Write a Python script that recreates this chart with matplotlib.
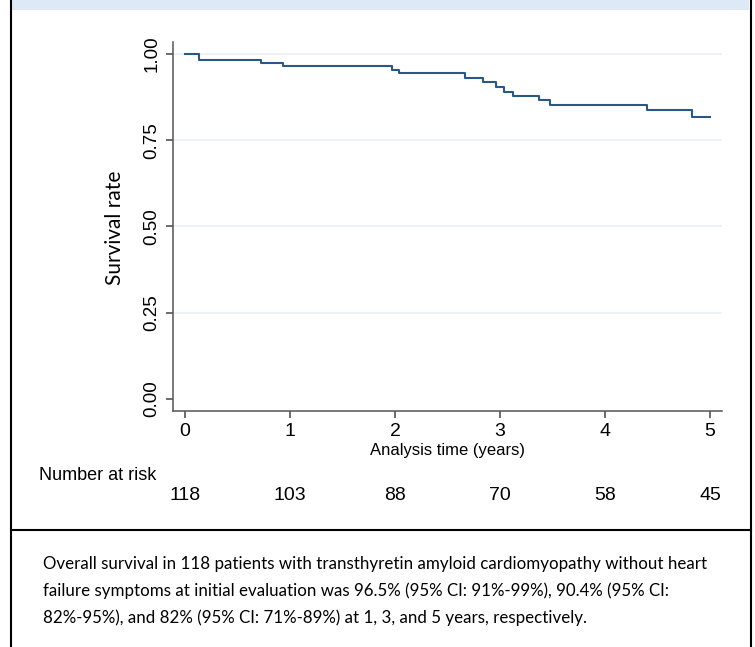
"""Kaplan-Meier survival curve with number at risk and caption"""
import matplotlib
matplotlib.use("Agg")
import matplotlib.pyplot as plt
from matplotlib.lines import Line2D
from matplotlib.patches import Rectangle

# step times (years) and survival estimates
times = [0, 0.13, 0.72, 0.93, 1.97, 2.04, 2.67, 2.84, 2.96, 3.04, 3.12, 3.37, 3.48, 4.40, 4.83, 5.0]
survival = [1.0, 0.983, 0.975, 0.966, 0.953, 0.944, 0.930, 0.918, 0.905, 0.891, 0.878,
            0.866, 0.852, 0.837, 0.818, 0.818]

year_ticks = [0, 1, 2, 3, 4, 5]
at_risk = [118, 103, 88, 70, 58, 45]
y_ticks = [0.0, 0.25, 0.5, 0.75, 1.0]
y_tick_labels = ["0.00", "0.25", "0.50", "0.75", "1.00"]

caption = ("Overall survival in 118 patients with transthyretin amyloid cardiomyopathy without heart\n"
           "failure symptoms at initial evaluation was 96.5% (95% CI: 91%-99%), 90.4% (95% CI:\n"
           "82%-95%), and 82% (95% CI: 71%-89%) at 1, 3, and 5 years, respectively.")

W, H = 755, 647
arial = ["Liberation Sans", "DejaVu Sans"]
humanist = ["Lato", "DejaVu Sans"]

fig = plt.figure(figsize=(W / 100, H / 100), dpi=100)
ax = fig.add_axes([173 / W, 1 - 411 / H, (722 - 173) / W, (411 - 42) / H])

ax.plot(times, survival, drawstyle="steps-post", color="#2b5783", lw=1.5, zorder=3)
for yv in y_ticks[1:]:
    ax.axhline(yv, color="#e9eff6", lw=1.2, zorder=1)

ax.set_xlim(-0.114, 5.114)
ax.set_ylim(-0.035, 1.035)
ax.set_xticks(year_ticks)
ax.set_xticklabels([str(t) for t in year_ticks], family=arial, fontsize=14)
ax.set_yticks(y_ticks)
ax.set_yticklabels(y_tick_labels, family=arial, fontsize=13.5, rotation=90, va="center")
ax.tick_params(axis="both", direction="out", length=5, width=1.1, color="#444444", pad=4)
for side in ["top", "right"]:
    ax.spines[side].set_visible(False)
for side in ["left", "bottom"]:
    ax.spines[side].set_color("#555555")
    ax.spines[side].set_linewidth(1.1)

ax.set_xlabel("Analysis time (years)", family=arial, fontsize=12, labelpad=2)
fig.text(115 / W, 1 - 228 / H, "Survival rate", rotation=90, ha="center", va="center",
         family=humanist, fontsize=15)

# number at risk table
fig.text(39 / W, 1 - 475 / H, "Number at risk", family=arial, fontsize=13, ha="left", va="center")
for t, n in zip(year_ticks, at_risk):
    xpix = ax.transData.transform((t, 0))[0]
    fig.text(xpix / W, 1 - 496 / H, str(n), family=arial, fontsize=14, ha="center", va="center")

# caption
fig.text(43 / W, 1 - 591 / H, caption, family=humanist, fontsize=12.2,
         ha="left", va="center", linespacing=1.8)

# frame
fig.add_artist(Rectangle((11 / W, 1 - 10 / H), (749 - 11) / W, 10 / H,
                         transform=fig.transFigure, color="#dde9f5", lw=0))
for xb in [10.5, 750.5]:
    fig.add_artist(Line2D([xb / W, xb / W], [0, 1], transform=fig.transFigure, color="black", lw=1.5))
fig.add_artist(Line2D([10.5 / W, 750.5 / W], [1 - 530 / H, 1 - 530 / H],
                      transform=fig.transFigure, color="black", lw=1.5))

fig.savefig("out.png", dpi=100)
